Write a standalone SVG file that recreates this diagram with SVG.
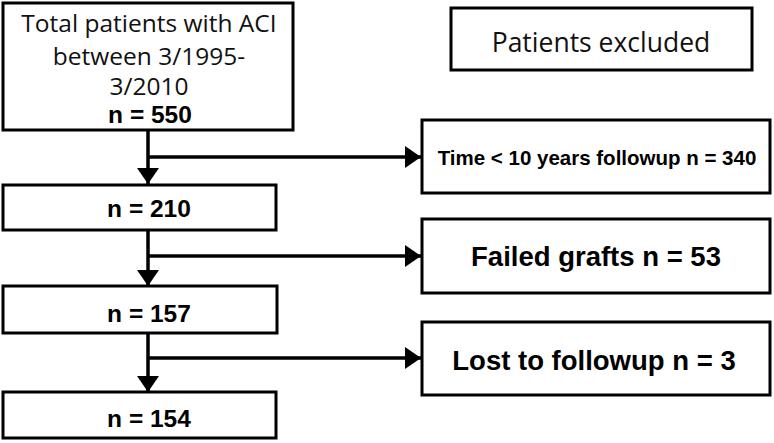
<svg xmlns="http://www.w3.org/2000/svg" width="774" height="443" viewBox="0 0 774 443">
<style>
.box{fill:#fff;stroke:#000;stroke-width:3}
.c{stroke:#000;stroke-width:3.5;fill:none}
.reg{font-family:"Open Sans","Noto Sans",sans-serif;fill:#111}
.b{font-family:"Liberation Sans",Arial,sans-serif;font-weight:bold;fill:#000}
</style>
<defs>
<marker id="ah" viewBox="0 0 16 22" refX="16" refY="11" markerWidth="16" markerHeight="22" markerUnits="userSpaceOnUse" orient="auto">
<path d="M0,0 L16,11 L0,22 z" fill="#000"/>
</marker>
</defs>
<rect width="774" height="443" fill="#fff"/>
<g id="connectors">
<line class="c" x1="148" y1="130" x2="148" y2="184" marker-end="url(#ah)"/>
<line class="c" x1="148" y1="157" x2="421" y2="157" marker-end="url(#ah)"/>
<line class="c" x1="148" y1="230" x2="148" y2="286" marker-end="url(#ah)"/>
<line class="c" x1="148" y1="256" x2="421" y2="256" marker-end="url(#ah)"/>
<line class="c" x1="148" y1="333" x2="148" y2="392" marker-end="url(#ah)"/>
<line class="c" x1="148" y1="358" x2="421" y2="358" marker-end="url(#ah)"/>
</g>
<g id="total">
<rect class="box" x="3" y="3" width="290" height="127"/>
<text class="reg" font-size="24.5" text-anchor="middle" x="149" y="32">Total patients with ACI</text>
<text class="reg" font-size="24.5" text-anchor="middle" x="149" y="65">between 3/1995-</text>
<text class="reg" font-size="24.5" text-anchor="middle" x="149" y="95">3/2010</text>
<text class="b" font-size="24.5" text-anchor="middle" x="150" y="123">n = 550</text>
</g>
<g id="excluded">
<rect class="box" x="451" y="8" width="301" height="62"/>
<text class="reg" font-size="26.5" text-anchor="middle" x="601" y="52">Patients excluded</text>
</g>
<g id="n210">
<rect class="box" x="3" y="185" width="273" height="45"/>
<text class="b" font-size="24.5" text-anchor="middle" x="149" y="217">n = 210</text>
</g>
<g id="time">
<rect class="box" x="422" y="120" width="348" height="73"/>
<text class="b" font-size="20.5" text-anchor="middle" x="597" y="165">Time &lt; 10 years followup n = 340</text>
</g>
<g id="failed">
<rect class="box" x="422" y="219" width="348" height="74"/>
<text class="b" font-size="27.5" text-anchor="middle" x="596" y="266">Failed grafts n = 53</text>
</g>
<g id="n157">
<rect class="box" x="3" y="286" width="274" height="47"/>
<text class="b" font-size="24.5" text-anchor="middle" x="149" y="322">n = 157</text>
</g>
<g id="lost">
<rect class="box" x="422" y="322" width="348" height="73"/>
<text class="b" font-size="27.5" text-anchor="middle" x="594" y="370">Lost to followup n = 3</text>
</g>
<g id="n154">
<rect class="box" x="3" y="392" width="273" height="46"/>
<text class="b" font-size="24.5" text-anchor="middle" x="149" y="427">n = 154</text>
</g>
</svg>
